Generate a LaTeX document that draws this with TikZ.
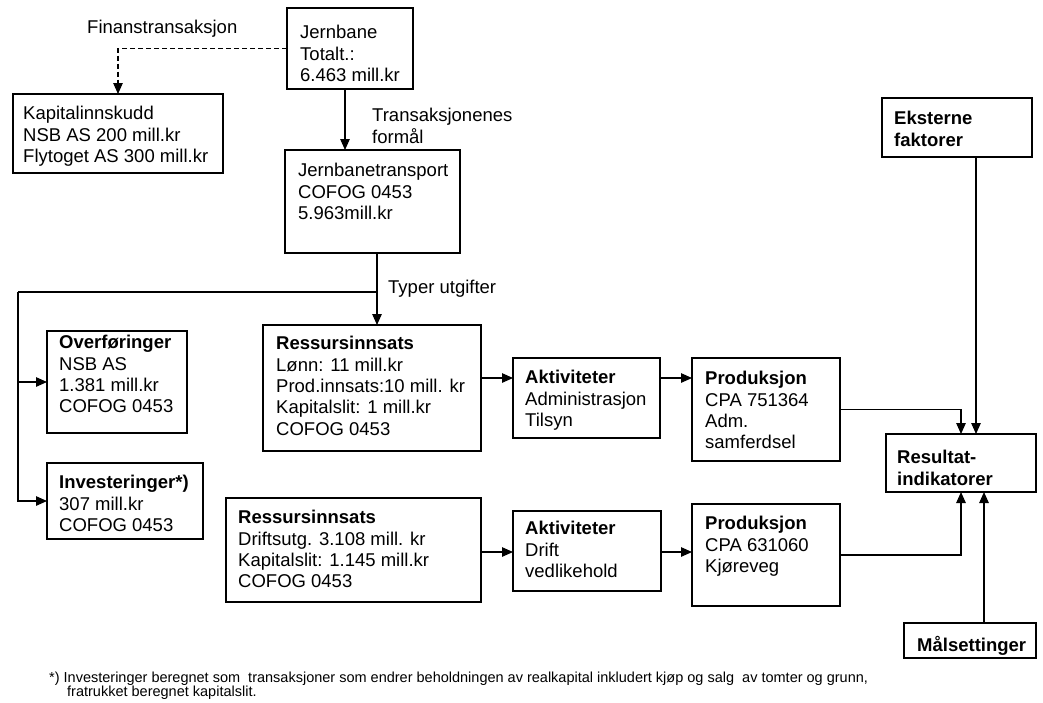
\documentclass[tikz,border=0pt]{standalone}
\usepackage{fontspec}
\setmainfont{Liberation Sans}
\usetikzlibrary{arrows.meta,calc}
\tikzset{
  boxframe/.style={draw, line width=1.4pt, inner sep=0pt, outer sep=0pt, anchor=north west},
  boxtext/.style={anchor=north west, inner sep=0pt, align=left, font=\fontsize{18.5}{21.3}\selectfont},
  lbl/.style={inner sep=0pt, anchor=base west, font=\fontsize{18.5}{21.3}\selectfont},
  conn/.style={line width=1.2pt},
  arr/.style={conn, -{Triangle[length=11pt,width=9.5pt]}},
  dsh/.style={arr, dash pattern=on 5pt off 3pt},
  note/.style={anchor=north west, inner sep=0pt, align=left, font=\fontsize{14.5}{14}\selectfont}
}
\begin{document}
\begin{tikzpicture}[x=1pt,y=-1pt]
\fill[white] (0,0) rectangle (1043,702);
\useasboundingbox (0,0) rectangle (1043,702);

% frames
\node[boxframe, minimum width=126pt, minimum height=81pt] (jb) at (287,8) {};
\node[boxframe, minimum width=210pt, minimum height=79pt] (kap) at (13,94) {};
\node[boxframe, minimum width=175pt, minimum height=103pt] (jbt) at (285,150) {};
\node[boxframe, minimum width=140pt, minimum height=102pt] (ovf) at (47,331) {};
\node[boxframe, minimum width=218pt, minimum height=126pt] (res1) at (263,325) {};
\node[boxframe, minimum width=156pt, minimum height=76pt] (inv) at (47,463) {};
\node[boxframe, minimum width=255pt, minimum height=104pt] (res2) at (226,498) {};
\node[boxframe, minimum width=147pt, minimum height=80pt] (akt1) at (513,358) {};
\node[boxframe, minimum width=148pt, minimum height=80pt] (akt2) at (513,511) {};
\node[boxframe, minimum width=148pt, minimum height=103pt] (prod1) at (692,358) {};
\node[boxframe, minimum width=148pt, minimum height=102pt] (prod2) at (692,504) {};
\node[boxframe, minimum width=150pt, minimum height=58pt] (res) at (886,434) {};
\node[boxframe, minimum width=150pt, minimum height=59pt] (eks) at (882,98) {};
\node[boxframe, minimum width=132pt, minimum height=35pt] (mal) at (904,623) {};

% box texts
\node[boxtext] (jbT) at (300,25.3) {Jernbane\\Totalt.:\\6.463 mill.kr};
\node[boxtext] (kapT) at (23,106.3) {Kapitalinnskudd\\NSB AS 200 mill.kr\\Flytoget AS 300 mill.kr};
\node[boxtext] (jbtT) at (298,163.3) {Jernbanetransport\\COFOG 0453\\5.963mill.kr};
\node[boxtext] (ovfT) at (59,335.3) {\textbf{Overføringer}\\NSB AS\\1.381 mill.kr\\COFOG 0453};
\node[boxtext] (res1T) at (276,336.3) {\textbf{Ressursinnsats}\\Lønn: 11 mill.kr\\Prod.innsats:10 mill. kr\\Kapitalslit: 1 mill.kr\\COFOG 0453};
\node[boxtext] (invT) at (59,475.3) {\textbf{Investeringer*)}\\307 mill.kr\\COFOG 0453};
\node[boxtext] (res2T) at (238,510.3) {\textbf{Ressursinnsats}\\Driftsutg. 3.108 mill. kr\\Kapitalslit: 1.145 mill.kr\\COFOG 0453};
\node[boxtext] (akt1T) at (525,370.3) {\textbf{Aktiviteter}\\Administrasjon\\Tilsyn};
\node[boxtext] (akt2T) at (525,521.3) {\textbf{Aktiviteter}\\Drift\\vedlikehold};
\node[boxtext] (prod1T) at (705,371.3) {\textbf{Produksjon}\\CPA 751364\\Adm.\\samferdsel};
\node[boxtext] (prod2T) at (705,516.3) {\textbf{Produksjon}\\CPA 631060\\Kjøreveg};
\node[boxtext] (resT) at (897,450.3) {\textbf{Resultat-}\\\textbf{indikatorer}};
\node[boxtext] (eksT) at (894,111.3) {\textbf{Eksterne}\\\textbf{faktorer}};
\node[boxtext] (malT) at (917,636.3) {\textbf{Målsettinger}};

% labels
\node[lbl] (fin) at (87,33.5) {Finanstransaksjon};
\node[boxtext] (tf) at (372,108.3) {Transaksjonenes\\formål};
\node[lbl] (ty) at (388,293.5) {Typer utgifter};
\node[note] (fn) at (49,672) {*) Investeringer beregnet som\ \ transaksjoner som endrer beholdningen av realkapital inkludert kjøp og salg\ \ av tomter og grunn,\\\hspace*{18pt}fratrukket beregnet kapitalslit.};

% connectors
\draw[dsh] (jb.west) -| (kap.north);
\coordinate (xjb) at (345,0);
\draw[arr] (xjb |- jb.south) -- (xjb |- jbt.north);
\coordinate (xtu) at (377,0);
\coordinate (lft) at (18,292);
\draw[arr] (xtu |- jbt.south) -- (xtu |- res1.north);
\draw[conn] (xtu |- lft) -- (lft);
\draw[arr] (lft) |- (inv.west);
\draw[arr] (lft |- ovf.west) -- (ovf.west);
\coordinate (yr1) at (0,378);
\draw[arr] (res1.east |- yr1) -- (akt1.west |- yr1);
\draw[arr] (akt1.east |- yr1) -- (prod1.west |- yr1);
\coordinate (ya2) at (0,552);
\draw[arr] (res2.east |- ya2) -- (akt2.west |- ya2);
\draw[arr] (akt2.east |- ya2) -- (prod2.west |- ya2);
\coordinate (xa) at (961,0);
\coordinate (xb) at (976,0);
\coordinate (xc) at (984,0);
\draw[arr] (prod1.east) -| (xa |- res.north);
\draw[arr] (xb |- eks.south) -- (xb |- res.north);
\draw[arr] (prod2.east) -| (xa |- res.south);
\draw[arr] (xc |- mal.north) -- (xc |- res.south);
\end{tikzpicture}
\end{document}
